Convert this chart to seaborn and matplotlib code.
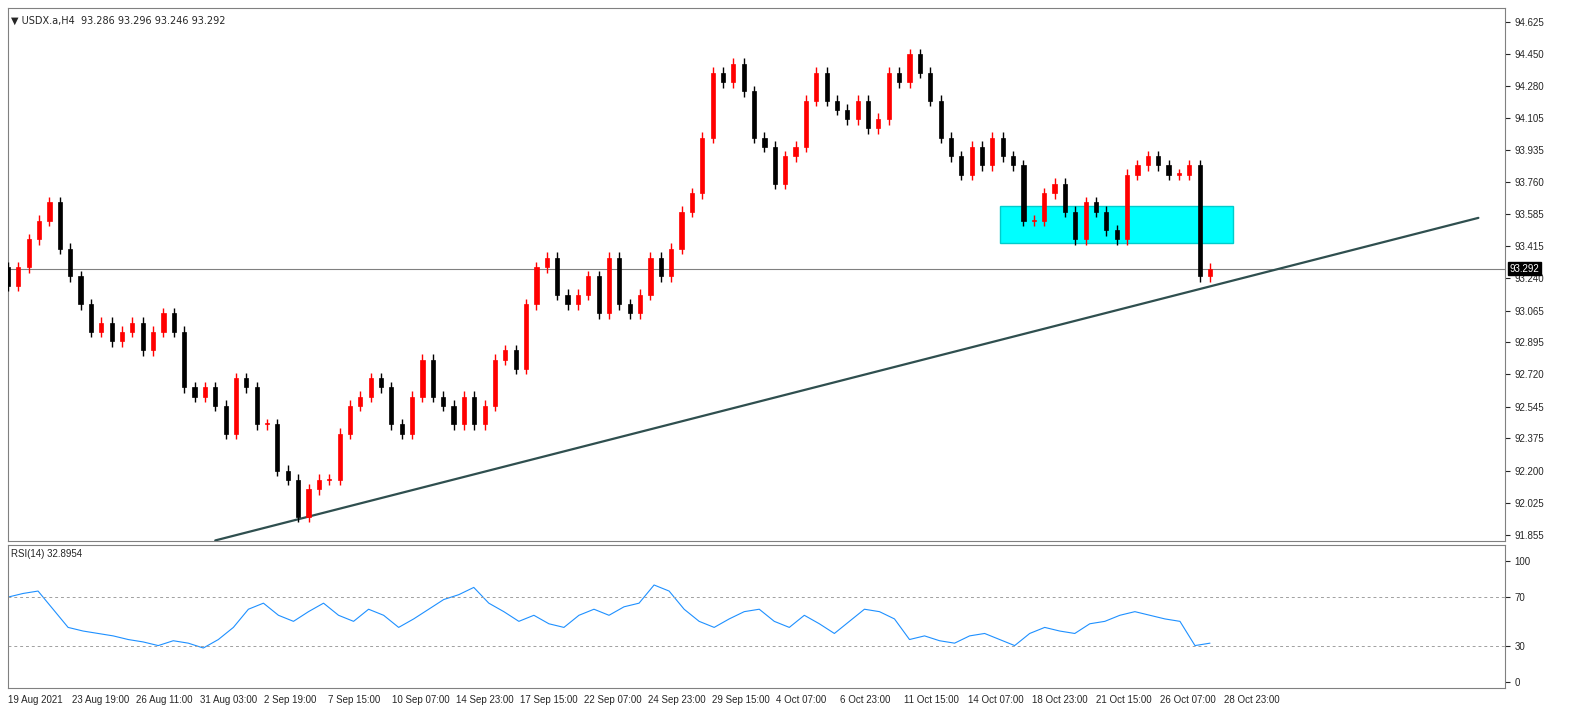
import matplotlib
matplotlib.use("Agg")
import matplotlib.pyplot as plt
import seaborn as sns
import numpy as np

sns.set_style("white")
plt.rcParams['font.family'] = ['Liberation Sans', 'DejaVu Sans']

closes = [93.20, 93.30, 93.45, 93.55, 93.65, 93.40, 93.25, 93.10, 92.95, 93.00,
          92.90, 92.95, 93.00, 92.85, 92.95, 93.05, 92.95, 92.65, 92.60, 92.65,
          92.55, 92.40, 92.70, 92.65, 92.45, 92.45, 92.20, 92.15, 91.95, 92.10,
          92.15, 92.15, 92.40, 92.55, 92.60, 92.70, 92.65, 92.45, 92.40, 92.60,
          92.80, 92.60, 92.55, 92.45, 92.60, 92.45, 92.55, 92.80, 92.85, 92.75,
          93.10, 93.30, 93.35, 93.15, 93.10, 93.15, 93.25, 93.05, 93.35, 93.10,
          93.05, 93.15, 93.35, 93.25, 93.40, 93.60, 93.70, 94.00, 94.35, 94.30,
          94.40, 94.25, 94.00, 93.95, 93.75, 93.90, 93.95, 94.20, 94.35, 94.20,
          94.15, 94.10, 94.20, 94.05, 94.10, 94.35, 94.30, 94.45, 94.35, 94.20,
          94.00, 93.90, 93.80, 93.95, 93.85, 94.00, 93.90, 93.85, 93.55, 93.55,
          93.70, 93.75, 93.60, 93.45, 93.65, 93.60, 93.50, 93.45, 93.80, 93.85,
          93.90, 93.85, 93.80, 93.80, 93.85, 93.25, 93.29]
first_open = 93.30

rsi = [70, 73, 75, 60, 45, 42, 40, 38, 35, 33, 30, 34, 32, 28, 35, 45, 60, 65,
       55, 50, 58, 65, 55, 50, 60, 55, 45, 52, 60, 68, 72, 78, 65, 58, 50, 55,
       48, 45, 55, 60, 55, 62, 65, 80, 75, 60, 50, 45, 52, 58, 60, 50, 45, 55,
       48, 40, 50, 60, 58, 52, 35, 38, 34, 32, 38, 40, 35, 30, 40, 45, 42, 40,
       48, 50, 55, 58, 55, 52, 50, 30, 32]

price_ticks = [94.625, 94.450, 94.280, 94.105, 93.935, 93.760, 93.585, 93.415,
               93.240, 93.065, 92.895, 92.720, 92.545, 92.375, 92.200, 92.025, 91.855]
date_labels = ["19 Aug 2021", "23 Aug 19:00", "26 Aug 11:00", "31 Aug 03:00", "2 Sep 19:00",
               "7 Sep 15:00", "10 Sep 07:00", "14 Sep 23:00", "17 Sep 15:00", "22 Sep 07:00",
               "24 Sep 23:00", "29 Sep 15:00", "4 Oct 07:00", "6 Oct 23:00", "11 Oct 15:00",
               "14 Oct 07:00", "18 Oct 23:00", "21 Oct 15:00", "26 Oct 07:00", "28 Oct 23:00"]

trend_start = (20, 91.823)
trend_end = (141.9, 93.566)
zone = (95.7, 118.2, 93.43, 93.63)
last_price = 93.292

n = len(closes)
step = (1210 - 8) / (n - 1)          # px per candle
x_right = (1505 - 8) / step

fig = plt.figure(figsize=(15.86, 7.10), dpi=100)
W, H = 1586, 710
ax = fig.add_axes([8 / W, 1 - 541 / H, (1505 - 8) / W, (541 - 8) / H])
ax2 = fig.add_axes([8 / W, 1 - 688 / H, (1505 - 8) / W, (688 - 545) / H])

opens = [first_open] + closes[:-1]
for i, (o, c) in enumerate(zip(opens, closes)):
    col = "#ff0000" if c >= o else "#000000"
    hi, lo = max(o, c) + 0.03, min(o, c) - 0.03
    ax.vlines(i, lo, hi, color=col, lw=1, zorder=5)
    ax.bar(i, max(abs(c - o), 0.006), bottom=min(o, c), width=0.4, color=col, edgecolor=col, lw=0.5, zorder=5)

ax.add_patch(plt.Rectangle((zone[0], zone[2]), zone[1] - zone[0], zone[3] - zone[2],
                           facecolor="#00ffff", edgecolor="#00cccc", lw=1, zorder=2))
ax.plot([trend_start[0], trend_end[0]], [trend_start[1], trend_end[1]], color="#2f4f4f", lw=1.6, zorder=4)
ax.axhline(last_price, color="#808080", lw=0.8, zorder=1)

ax.set_xlim(0, x_right)
ax.set_ylim(91.82, 94.70)
ax.yaxis.tick_right()
ax.set_yticks(price_ticks)
ax.set_yticklabels([f"{v:.3f}" for v in price_ticks], fontsize=7)
ax.set_xticks([])
ax.text(1.003, last_price, f"{last_price:.3f}", transform=ax.get_yaxis_transform(), fontsize=7,
        color="white", va="center", ha="left", bbox=dict(facecolor="black", edgecolor="black", pad=1))
ax.text(0.002, 0.985, "\u25bc USDX.a,H4  93.286 93.296 93.246 93.292", transform=ax.transAxes,
        fontsize=7, va="top", family=['DejaVu Sans'])

sns.lineplot(x=np.arange(len(rsi)) * (n - 1) / (len(rsi) - 1), y=rsi, ax=ax2, color="#1e90ff", lw=0.8)
for lv in (30, 70):
    ax2.axhline(lv, color="#a0a0a0", lw=0.7, ls=(0, (3, 3)))
ax2.set_xlim(0, x_right)
ax2.set_ylim(-5, 113)
ax2.yaxis.tick_right()
ax2.set_yticks([0, 30, 70, 100])
ax2.set_yticklabels(["0", "30", "70", "100"], fontsize=7)
ax2.text(0.002, 0.97, "RSI(14) 32.8954", transform=ax2.transAxes, fontsize=7, va="top")
ticks = [k * 64 / step for k in range(len(date_labels))]
ax2.set_xticks(ticks)
ax2.set_xticklabels(date_labels, fontsize=7, ha="left")
ax2.tick_params(axis="x", length=3, pad=2)

for a in (ax, ax2):
    for s in a.spines.values():
        s.set_color("#808080")
        s.set_linewidth(0.8)

fig.savefig("out.png", dpi=100)
